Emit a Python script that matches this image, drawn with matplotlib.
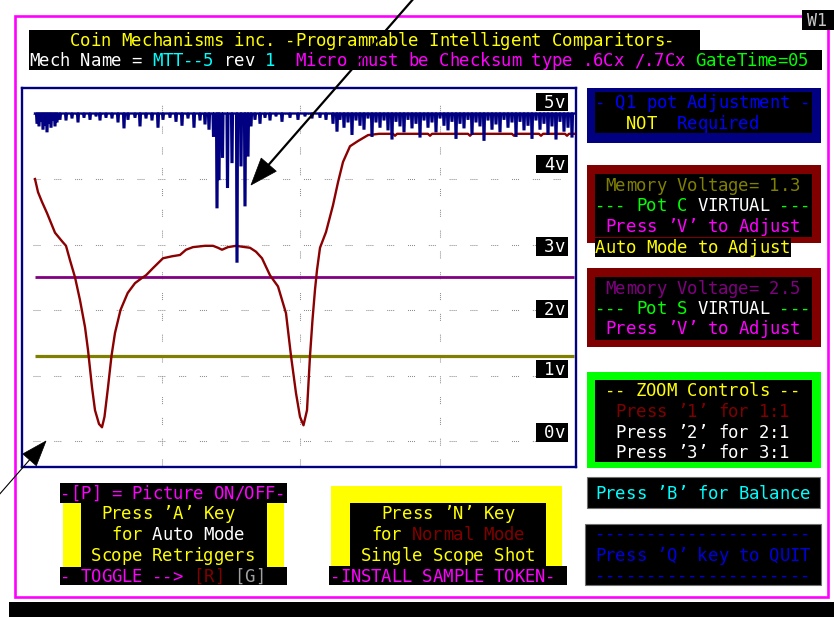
import numpy as np
import matplotlib
matplotlib.use("Agg")
import matplotlib.pyplot as plt
from matplotlib.patches import Rectangle, Polygon

plt.rcParams["lines.scale_dashes"] = False

# ---------------- data (sample index, volts) ----------------
red_x = [35, 38, 42, 47, 55, 62, 66, 70, 75, 80, 85, 88, 92, 95, 99, 102, 104.5, 108, 111.5,
         115, 120.5, 127.7, 135, 142, 146, 153, 163, 172, 180, 186, 193, 205, 213, 218, 222,
         228, 236, 245, 250, 256, 262, 270, 278, 286, 291, 296, 300, 303.5, 307, 310, 312.5,
         315, 317, 320, 326, 333, 338, 343, 350, 358, 368, 379, 393, 395, 397, 428, 430, 432,
         468, 470, 472, 512, 514, 516, 539, 541, 543, 565, 567, 569, 574]
red_v = [4.00, 3.80, 3.65, 3.48, 3.18, 3.05, 2.98, 2.76, 2.50, 2.15, 1.74, 1.39, 0.82, 0.47, 0.26,
         0.21, 0.37, 0.82, 1.30, 1.65, 2.00, 2.26, 2.41, 2.49, 2.53, 2.64, 2.79, 2.82, 2.84, 2.92,
         2.96, 2.98, 2.98, 2.95, 2.92, 2.96, 2.98, 2.96, 2.95, 2.89, 2.79, 2.53, 2.36, 1.95, 1.30,
         0.73, 0.37, 0.24, 0.47, 1.30, 1.85, 2.31, 2.61, 2.95, 3.19, 3.60, 3.95, 4.26, 4.50, 4.58,
         4.67, 4.69, 4.69, 4.66, 4.69, 4.69, 4.66, 4.69, 4.69, 4.66, 4.69, 4.69, 4.66, 4.69, 4.69,
         4.66, 4.69, 4.69, 4.66, 4.69, 4.69]

blue_base = 5.0
blue_spike_x = [37, 39, 41, 43, 45, 47, 49, 51, 53, 55, 57, 60,
                66, 72, 78, 84, 90, 96, 100, 106, 112, 118, 124, 128, 135, 140, 146, 152, 158,
                163, 170, 176, 182, 188, 194, 200, 205, 209,
                213.5, 217, 219, 222.5, 227.5, 232, 237, 241, 245, 248, 251,
                255, 260, 265, 270, 276, 282, 290, 298, 305, 312, 320, 326,
                333, 337, 340, 344, 348, 352, 356, 360, 364, 368, 372, 376, 380, 384, 388, 392,
                396, 400, 404, 408, 412, 416, 420, 424, 428, 432, 436, 440, 444, 448, 452, 456,
                460, 464, 468, 472, 476, 480, 484, 488, 492, 496, 500, 504, 508, 512, 516, 520,
                524, 528, 532, 536, 540, 544, 548, 552, 556, 560, 564, 568, 572]
blue_spike_drop = [0.14, 0.18, 0.11, 0.23, 0.17, 0.27, 0.14, 0.20, 0.09, 0.18, 0.12, 0.08,
                   0.09, 0.06, 0.12, 0.05, 0.08, 0.03, 0.09, 0.05, 0.06, 0.12, 0.21, 0.08, 0.05,
                   0.18, 0.06, 0.09, 0.20, 0.08, 0.05, 0.11, 0.17, 0.06, 0.20, 0.09, 0.15, 0.23,
                   0.34, 1.43, 1.00, 0.66, 1.12, 0.74, 2.26, 0.79, 1.40, 0.64, 0.18,
                   0.08, 0.14, 0.05, 0.09, 0.03, 0.11, 0.05, 0.08, 0.03, 0.06, 0.05, 0.08,
                   0.14, 0.26, 0.08, 0.20, 0.12, 0.31, 0.09, 0.17, 0.23, 0.06, 0.34, 0.12, 0.20,
                   0.09, 0.24, 0.38, 0.11, 0.18, 0.27, 0.08, 0.21, 0.14, 0.35, 0.09, 0.20, 0.12,
                   0.27, 0.06, 0.17, 0.24, 0.11, 0.37, 0.14, 0.21, 0.08, 0.31, 0.12, 0.18, 0.40,
                   0.09, 0.23, 0.15, 0.27, 0.08, 0.20, 0.12, 0.34, 0.11, 0.24, 0.17, 0.37, 0.09,
                   0.23, 0.14, 0.31, 0.18, 0.38, 0.11, 0.26, 0.20, 0.35]

trace_start, trace_end = 35, 574
pot_c_voltage = 1.3
pot_s_voltage = 2.5
grid_volts = [0, 1, 2, 3, 4, 5]
grid_samples = [162, 300, 440]
volt_labels = ["5v", "4v", "3v", "2v", "1v", "0v"]

# ---------------- colours ----------------
YEL, MAG, WHT, CYN, GRN = "#ffff00", "#ff00ff", "#ffffff", "#00ffff", "#00ff00"
DRED, OLV, PUR, BLU, NAVY = "#800000", "#808000", "#800080", "#0000ff", "#000080"

W, H = 834, 617
fig = plt.figure(figsize=(W / 100, H / 100), dpi=100)
fig.patch.set_facecolor("white")

bg = fig.add_axes([0, 0, 1, 1])
bg.set_xlim(0, W)
bg.set_ylim(H, 0)
bg.axis("off")

CW = 10.25
FS = 12.4
FONT = "DejaVu Sans Mono"
DY = 1.0


def box(ax, x0, y0, x1, y1, fc, ec="none", lw=0, z=1):
    ax.add_patch(Rectangle((x0, y0), x1 - x0, y1 - y0, facecolor=fc,
                           edgecolor=ec, linewidth=lw, zorder=z))


def row(ax, x0, y, segs, z=3):
    col = 0
    for txt, c in segs:
        for ch in txt:
            if ch != " ":
                ax.text(x0 + col * CW + CW / 2, y + DY, ch, color=c, family=FONT,
                        fontsize=FS, ha="center", va="center", zorder=z)
            col += 1


# magenta frame, W1 box, bottom bar
bg.add_patch(Rectangle((15, 16), 828 - 15, 597 - 16, facecolor="none",
                       edgecolor=MAG, linewidth=1.9, zorder=1))
box(bg, 802, 10, 834, 30, "black", z=2)
bg.text(817, 21, "W1", color="#c8c8c8", family=FONT, fontsize=12, ha="center",
        va="center", zorder=3)
box(bg, 9, 602, 834, 617, "black", z=2)

# title
box(bg, 29, 30, 700, 50, "black")
box(bg, 29, 50, 822, 70, "black")
row(bg, 29, 40, [("    Coin Mechanisms inc. -Programmable Intelligent Comparitors-", YEL)])
row(bg, 29, 60, [("Mech Name = ", WHT), ("MTT--5", CYN), (" rev ", WHT), ("1", CYN),
                 ("  Micro must be Checksum type .6Cx /.7Cx ", MAG), ("GateTime=05", GRN)])

# Q1 panel
box(bg, 587, 88, 821, 143, NAVY)
box(bg, 595, 92, 812, 133, "black")
row(bg, 595, 102, [("- Q1 pot Adjustment -", BLU)])
row(bg, 595, 123, [("   NOT", YEL), ("  Required", BLU)])

# Pot C panel
box(bg, 587, 165, 821, 243, DRED)
box(bg, 595, 174, 812, 237, "black")
row(bg, 595, 185, [(" Memory Voltage= %.1f" % pot_c_voltage, OLV)])
row(bg, 595, 205, [("--- Pot C ", GRN), ("VIRTUAL", WHT), (" ---", GRN)])
row(bg, 595, 226, [(" Press \u2019V\u2019 to Adjust", MAG)])
box(bg, 595, 238, 791, 257, "black", z=2)
row(bg, 595, 247, [("Auto Mode to Adjust", YEL)])

# Pot S panel
box(bg, 587, 268, 821, 347, DRED)
box(bg, 595, 277, 812, 340, "black")
row(bg, 595, 288, [(" Memory Voltage= %.1f" % pot_s_voltage, PUR)])
row(bg, 595, 308, [("--- Pot S ", GRN), ("VIRTUAL", WHT), (" ---", GRN)])
row(bg, 595, 328, [(" Press \u2019V\u2019 to Adjust", MAG)])

# Zoom panel
box(bg, 587, 372, 821, 468, GRN)
box(bg, 595, 380, 812, 462, "black")
row(bg, 595, 390, [(" -- ZOOM Controls --", YEL)])
row(bg, 595, 411, [("  Press \u20191\u2019 for 1:1", DRED)])
row(bg, 595, 432, [("  Press \u20192\u2019 for 2:1", WHT)])
row(bg, 595, 452, [("  Press \u20193\u2019 for 3:1", WHT)])

# Balance / Quit
box(bg, 587, 477, 820, 508, "black", ec="#707070", lw=0.8)
row(bg, 595, 493, [("Press \u2019B\u2019 for Balance", CYN)])
box(bg, 585, 524, 821, 585, "black", ec="#707070", lw=0.8)
row(bg, 595, 533, [("-" * 21, "#0000dd")])
row(bg, 595, 555, [("Press \u2019Q\u2019 key to QUIT", "#0000dd")])
row(bg, 595, 575, [("-" * 21, "#0000dd")])

# Panel A
box(bg, 60, 483, 287, 503, "black")
box(bg, 63.5, 503, 81.5, 567, YEL)
box(bg, 267, 503, 284, 567, YEL)
box(bg, 81.5, 503, 267, 567, "black")
box(bg, 60, 567, 287, 585, "black")
row(bg, 60, 493, [("-[P] = Picture ON/OFF-", MAG)])
row(bg, 60, 513, [("    Press \u2019A\u2019 Key", YEL)])
row(bg, 60, 534, [("     for ", YEL), ("Auto Mode", WHT)])
row(bg, 60, 555, [("   Scope Retriggers", YEL)])
row(bg, 60, 576, [("- TOGGLE --> ", MAG), ("[R]", DRED), (" ", WHT), ("[G]", "#a0a0a0")])

# Panel N
box(bg, 331, 486, 562, 567, YEL)
box(bg, 350, 503, 546, 567, "black")
box(bg, 329, 566, 567, 585, "black")
row(bg, 330, 513, [("     Press \u2019N\u2019 Key", YEL)])
row(bg, 330, 534, [("    for ", YEL), ("Normal Mode", DRED)])
row(bg, 330, 555, [("   Single Scope Shot", YEL)])
row(bg, 330, 576, [("-INSTALL SAMPLE TOKEN-", MAG)])

# ---------------- scope axes ----------------
sc = fig.add_axes([22 / W, 1 - 467 / H, (576 - 22) / W, (467 - 88) / H])
sc.set_facecolor("white")
sc.set_xlim(22, 576)
sc.set_ylim((441 - 467) / 65.5, (441 - 88) / 65.5)
sc.set_xticks([])
sc.set_yticks([])
for s in sc.spines.values():
    s.set_color(NAVY)
    s.set_linewidth(1.7)

dotted = (0, (0.72, 0.72, 0.72, 0.72, 0.72, 0.72, 0.72, 9.94))
sc.hlines(grid_volts, 33, 573, colors="#8c8c8c", linewidth=0.75,
          linestyles=[dotted], zorder=1)
sc.vlines(grid_samples, -0.38, 5.25, colors="#8c8c8c", linewidth=0.75,
          linestyles=[dotted], zorder=1)

sc.plot([trace_start, trace_end], [pot_s_voltage, pot_s_voltage], color=PUR, lw=2.0, zorder=2,
        solid_capstyle="butt")
sc.plot([trace_start, trace_end], [pot_c_voltage, pot_c_voltage], color=OLV, lw=2.3, zorder=2,
        solid_capstyle="butt")
sc.plot(red_x, red_v, color="#8b0000", lw=1.7, zorder=3)

bx, bv = [trace_start], [blue_base]
for x, d in sorted(zip(blue_spike_x, blue_spike_drop)):
    bx += [x - 0.9, x - 0.4, x + 0.4, x + 0.9]
    bv += [blue_base, blue_base - d, blue_base - d, blue_base]
bx.append(trace_end)
bv.append(blue_base)
sc.plot(bx, bv, color=NAVY, lw=1.7, zorder=4, solid_joinstyle="miter")

# ---------------- overlay: voltage labels and arrows ----------------
ov = fig.add_axes([0, 0, 1, 1], zorder=5)
ov.set_facecolor("none")
ov.set_xlim(0, W)
ov.set_ylim(H, 0)
ov.axis("off")

label_boxes = [(93, 111), (155, 173), (237, 256), (300, 318), (360, 378), (423, 442)]
for lab, (y0, y1) in zip(volt_labels, label_boxes):
    box(ov, 536, y0, 568, y1, "black", z=2)
    row(ov, 544, (y0 + y1) / 2, [(lab, "white")], z=3)


def arrow(ax, tail, tip, lw, hl, hw):
    tail = np.array(tail, float)
    tip = np.array(tip, float)
    d = (tip - tail) / np.linalg.norm(tip - tail)
    n = np.array([-d[1], d[0]])
    base = tip - d * hl
    ax.plot([tail[0], base[0]], [tail[1], base[1]], color="black", lw=lw, zorder=6)
    ax.add_patch(Polygon([tip, base + n * hw / 2, base - n * hw / 2], closed=True,
                         facecolor="black", edgecolor="black", lw=0.5, zorder=6))


arrow(ov, (415, -3), (251, 185), 1.6, 27, 20)
arrow(ov, (-2, 496), (46, 441), 0.8, 25, 18)

fig.savefig("out.png", dpi=100)
